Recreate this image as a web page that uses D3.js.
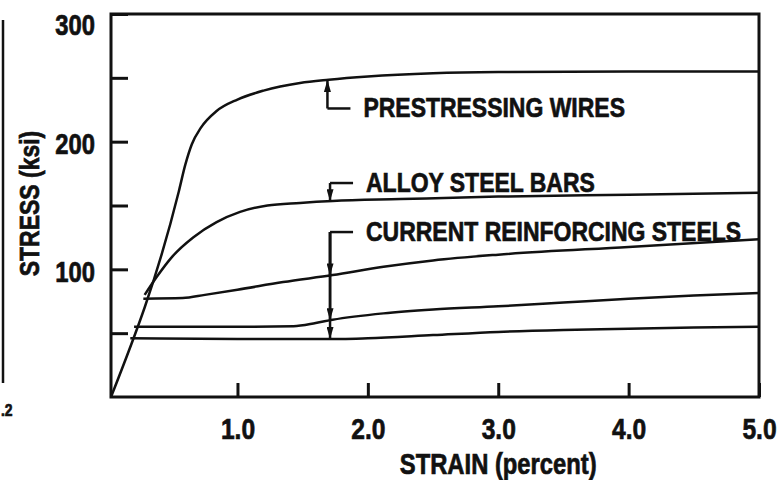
<!DOCTYPE html>
<html>
<head>
<meta charset="utf-8">
<script src="https://cdn.jsdelivr.net/npm/d3@7"></script>
<style>
    body { margin: 0; background: #fff; }
    svg { display: block; }
    text {
        font-family: "Liberation Sans", Arial, sans-serif;
        font-weight: bold;
        fill: #111;
        stroke: #111;
        stroke-width: 0.7px;
    }
</style>
</head>
<body>
<div id="chart"></div>
<script>
// strain (percent), stress (ksi)
const prestressingWires = [[0.03, 0], [0.55, 161], [0.6, 182], [0.65, 198], [0.72, 211], [0.84, 224],
    [1.0, 233], [1.2, 240], [1.48, 246], [1.7, 248.5], [2.0, 251], [2.5, 253.5], [3.0, 254.5], [4.0, 255], [5.0, 255]];
const alloySteelBars = [[0.288, 80], [0.38, 94], [0.5, 110], [0.66, 125], [0.84, 137], [1.02, 145],
    [1.23, 150], [1.48, 152], [1.73, 153.5], [2.25, 155], [3.0, 157], [4.0, 158.5], [5.0, 160]];
const reinforcingHigh = [[0.278, 77], [0.58, 77.5], [0.75, 80], [1.0, 84], [1.35, 90], [1.73, 95.5],
    [2.12, 102], [2.5, 107], [3.0, 111.5], [4.0, 117.5], [5.0, 123.5]];
const reinforcingMid = [[0.207, 55], [1.0, 55], [1.43, 55.5], [1.6, 58], [1.73, 60.5], [2.12, 65.5],
    [2.5, 68.5], [3.0, 71], [3.5, 74], [4.0, 77], [4.5, 79.5], [5.0, 81.5]];
const reinforcingLow = [[0.178, 46], [1.0, 45.5], [1.8, 45.5], [2.0, 46], [2.5, 48.5], [3.0, 51],
    [3.5, 52.5], [4.0, 53.5], [4.5, 54.5], [5.0, 55]];

const xTickValues = [1, 2, 3, 4, 5];
const xTickLabels = ["1.0", "2.0", "3.0", "4.0", "5.0"];
const yTickValues = [50, 100, 150, 200, 250, 300];
const yTickLabels = ["", "100", "", "200", "", "300"];

const labelNames = ["PRESTRESSING WIRES", "ALLOY STEEL BARS", "CURRENT REINFORCING STEELS"];
const labelCurves = [[prestressingWires], [alloySteelBars], [reinforcingHigh, reinforcingMid, reinforcingLow]];
const leaderStrain = [1.69, 1.71, 1.71];
const leaderElbow = [226, 167.6, 129.2];

const width = 779;
const height = 480;
const narrowFactor = 0.82;

let x = d3.scaleLinear().domain([0.03, 5]).range([111, 759]);
let y = d3.scaleLinear().domain([0, 300]).range([397, 14]);

let svg = d3.select("#chart")
    .append("svg")
    .attr("width", width)
    .attr("height", height);

// squeeze a bold sans into a condensed face
function narrow(sel) {
    sel.each(function() {
        let len = this.getComputedTextLength();
        if (len > 0) {
            d3.select(this)
                .attr("textLength", len * narrowFactor)
                .attr("lengthAdjust", "spacingAndGlyphs");
        }
    });
}

svg.append("defs").append("marker")
    .attr("id", "arrow")
    .attr("viewBox", "0 -3.5 12 7")
    .attr("refX", 12)
    .attr("refY", 0)
    .attr("markerUnits", "userSpaceOnUse")
    .attr("markerWidth", 12)
    .attr("markerHeight", 7)
    .attr("orient", "auto")
    .append("path")
    .attr("d", "M0,-3.5L12,0L0,3.5Z")
    .attr("fill", "#111");

// edge of the neighbouring figure
svg.append("line")
    .attr("x1", 3).attr("x2", 3)
    .attr("y1", 20).attr("y2", 383)
    .style("stroke", "#111")
    .style("stroke-width", "2.5px");
svg.append("text")
    .attr("x", 1)
    .attr("y", 416)
    .attr("font-size", "17px")
    .text(".2")
    .call(narrow);

// Axes
let xAxis = d3.axisBottom(x)
    .tickValues(xTickValues)
    .tickSize(-14)
    .tickPadding(21)
    .tickFormat((d, i) => xTickLabels[i]);
let gx = svg.append("g")
    .attr("transform", `translate(0,${y(0)})`)
    .call(xAxis);

let yAxis = d3.axisLeft(y)
    .tickValues(yTickValues)
    .tickSize(-17)
    .tickPadding(16)
    .tickFormat((d, i) => yTickLabels[i]);
let gy = svg.append("g")
    .attr("transform", `translate(${x(0.03)},0)`)
    .call(yAxis);

[gx, gy].forEach(g => {
    g.attr("font-size", null).attr("font-family", null);
    g.select(".domain").remove();
    g.selectAll(".tick line").style("stroke", "#111").style("stroke-width", "3px");
});
gx.selectAll("text")
    .attr("font-size", "30px")
    .attr("fill", "#111")
    .call(narrow);
gy.selectAll("text")
    .attr("font-size", "29px")
    .attr("fill", "#111")
    .attr("dy", d => d === 300 ? "0.72em" : "0.42em")
    .call(narrow);

// Frame
svg.append("rect")
    .attr("x", x(0.03))
    .attr("y", y(300))
    .attr("width", x(5) - x(0.03))
    .attr("height", y(0) - y(300))
    .style("fill", "none")
    .style("stroke", "#111")
    .style("stroke-width", "3px");

// Axis titles
svg.append("text")
    .attr("x", x(3))
    .attr("y", 474)
    .attr("text-anchor", "middle")
    .attr("font-size", "29px")
    .text("STRAIN (percent)")
    .call(narrow);

svg.append("text")
    .attr("transform", `translate(39,${y(150) - 2}) rotate(-90)`)
    .attr("text-anchor", "middle")
    .attr("font-size", "28px")
    .text("STRESS (ksi)")
    .call(narrow);

// Curves
let line = d3.line()
    .x(d => x(d[0]))
    .y(d => y(d[1]))
    .curve(d3.curveMonotoneX);

svg.selectAll(".curve")
    .data([prestressingWires, alloySteelBars, reinforcingHigh, reinforcingMid, reinforcingLow])
    .join("path")
    .classed("curve", true)
    .attr("d", line)
    .style("fill", "none")
    .style("stroke", "#111")
    .style("stroke-width", "2.5px");

// value of a curve at a given strain
function valueAt(curve, s) {
    let i = d3.bisector(d => d[0]).left(curve, s);
    if (i <= 0) return curve[0][1];
    let a = curve[i - 1], b = curve[i];
    return a[1] + (b[1] - a[1]) * (s - a[0]) / (b[0] - a[0]);
}

// Leaders and labels
labelNames.forEach((name, i) => {
    let lx = x(leaderStrain[i]);
    let ly = y(leaderElbow[i]);
    svg.append("line")
        .attr("x1", lx).attr("x2", lx + 23)
        .attr("y1", ly).attr("y2", ly)
        .style("stroke", "#111")
        .style("stroke-width", "2.5px");
    labelCurves[i].forEach(c => {
        svg.append("line")
            .attr("x1", lx).attr("x2", lx)
            .attr("y1", ly)
            .attr("y2", y(valueAt(c, leaderStrain[i])))
            .attr("marker-end", "url(#arrow)")
            .style("stroke", "#111")
            .style("stroke-width", "2.5px");
    });
    svg.append("text")
        .attr("x", lx + 36)
        .attr("y", ly + 9)
        .attr("font-size", "28px")
        .text(name)
        .call(narrow);
});
</script>
</body>
</html>
